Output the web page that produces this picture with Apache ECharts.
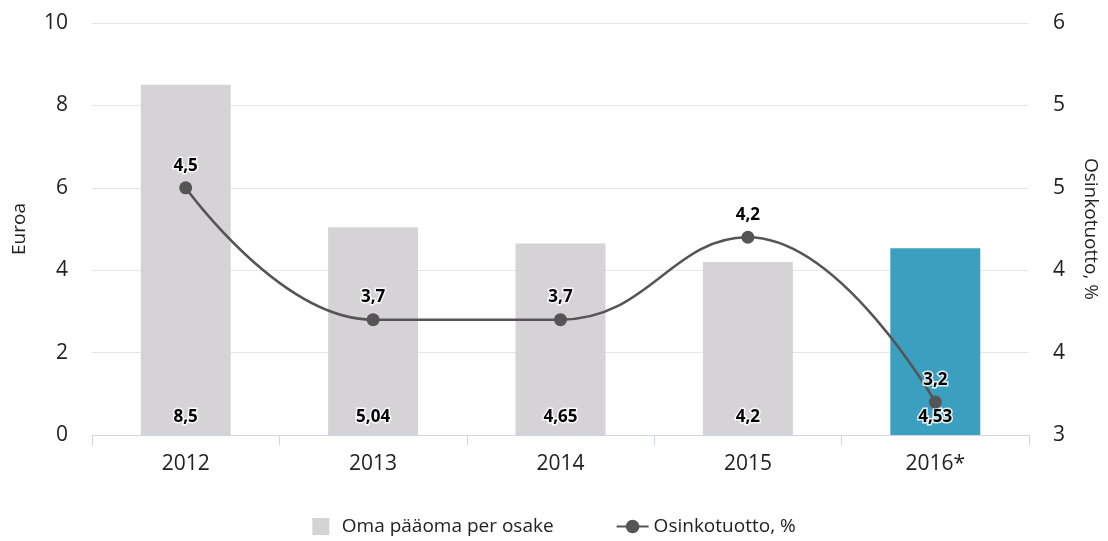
<!DOCTYPE html>
<html>
<head>
<meta charset="utf-8">
<script src="https://cdn.jsdelivr.net/npm/echarts@6/dist/echarts.min.js"></script>
<style>
  html, body { margin: 0; padding: 0; background: #fff; }
  #main { width: 1108px; height: 541px; }
</style>
</head>
<body>
<div id="main"></div>
<script>
var years = ['2012', '2013', '2014', '2015', '2016*'];
var equityPerShare = [8.5, 5.04, 4.65, 4.2, 4.53];
var dividendYield = [4.5, 3.7, 3.7, 4.2, 3.2];

var fmt = function (v) { return String(v).replace('.', ','); };
var font = '"Open Sans", "Noto Sans", sans-serif';

var myChart = echarts.init(document.getElementById('main'));

myChart.setOption({
    animation: false,
    textStyle: { fontFamily: font },
    grid: { left: 92, right: 78, top: 23, bottom: 106 },
    legend: {
        bottom: 0,
        itemGap: 62,
        itemWidth: 32,
        itemHeight: 17,
        textStyle: { fontSize: 19, color: '#222', fontFamily: font },
        data: [
            { name: 'Oma pääoma per osake', icon: 'path://M0,0h10v10h-10z', itemStyle: { color: '#d5d3d6' } },
            { name: 'Osinkotuotto, %' }
        ]
    },
    xAxis: {
        type: 'category',
        data: years,
        axisLine: { lineStyle: { color: '#ccd6eb' } },
        axisTick: { show: true, length: 10, lineStyle: { color: '#ccd6eb' } },
        axisLabel: { fontSize: 21, color: '#222', margin: 19 }
    },
    yAxis: [{
        type: 'value',
        min: 0, max: 10, interval: 2,
        name: 'Euroa',
        nameLocation: 'middle',
        nameRotate: 90,
        nameGap: 63,
        nameTextStyle: { fontSize: 19, color: '#222' },
        axisLabel: { fontSize: 21, color: '#222', margin: 24 },
        splitLine: { lineStyle: { color: '#e6e6e6' } }
    }, {
        type: 'value',
        min: 3, max: 5.5, interval: 0.5,
        name: 'Osinkotuotto, %',
        nameLocation: 'middle',
        nameRotate: -90,
        nameGap: 52,
        nameTextStyle: { fontSize: 19, color: '#222' },
        axisLabel: {
            fontSize: 21, color: '#222', margin: 24,
            formatter: function (v) { return Math.round(v); }
        },
        splitLine: { show: false }
    }],
    series: [{
        name: 'Oma pääoma per osake',
        type: 'bar',
        barWidth: '48%',
        data: equityPerShare.map(function (v, i) {
            return i === equityPerShare.length - 1
                ? { value: v, itemStyle: { color: '#3ba0c0' } }
                : v;
        }),
        itemStyle: { color: '#d5d3d6' },
        label: {
            show: true,
            position: 'insideBottom',
            distance: 9,
            fontSize: 17,
            fontWeight: 'bold',
            color: '#000',
            textBorderColor: 'rgba(255,255,255,0.85)',
            textBorderWidth: 3,
            formatter: function (p) { return fmt(p.value); }
        }
    }, {
        name: 'Osinkotuotto, %',
        type: 'line',
        yAxisIndex: 1,
        smooth: 0.45,
        symbol: 'circle',
        symbolSize: 13,
        data: dividendYield,
        lineStyle: { color: '#555555', width: 2.5 },
        itemStyle: { color: '#555555' },
        label: {
            show: true,
            position: 'top',
            distance: 7,
            fontSize: 17,
            fontWeight: 'bold',
            color: '#000',
            textBorderColor: 'rgba(255,255,255,0.85)',
            textBorderWidth: 3,
            formatter: function (p) { return fmt(p.value); }
        }
    }]
});
</script>
</body>
</html>
